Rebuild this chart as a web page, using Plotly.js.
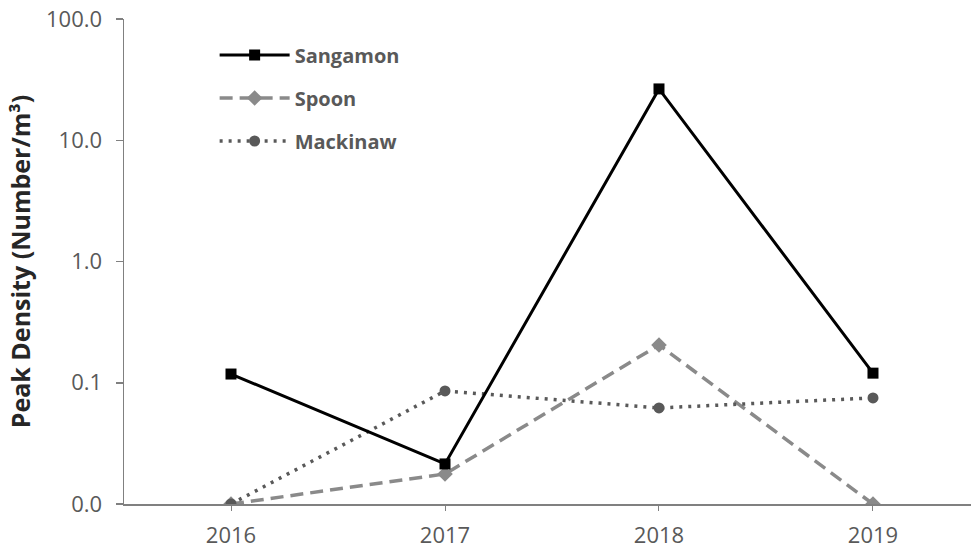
<!DOCTYPE html>
<html>
<head>
<meta charset="utf-8">
<script src="https://cdn.plot.ly/plotly-3.0.1.min.js"></script>
<style>html,body{margin:0;padding:0;background:#fff;}#chart{width:971px;height:548px;}</style>
</head>
<body>
<div id="chart"></div>
<script>
const years = ["2016", "2017", "2018", "2019"];
const sangamon = [0.118, 0.0214, 26.5, 0.120];
const spoon = [0.01, 0.0177, 0.205, 0.01];
const mackinaw = [0.01, 0.0856, 0.062, 0.075];
const yTickVals = [0.01, 0.1, 1, 10, 100];
const yTickText = ["0.0", "0.1", "1.0", "10.0", "100.0"];

const traces = [
  {x: years, y: sangamon, name: "Sangamon", mode: "lines+markers", legendgroup: "a", yaxis: "y2",
   line: {color: "#000000", width: 3}, marker: {symbol: "square", size: 11, color: "#000000"}},
  {x: years, y: spoon, name: "Spoon", mode: "lines+markers", legendgroup: "b",
   line: {color: "#8a8a8a", width: 3.5, dash: "13px,7px"}, marker: {symbol: "diamond", size: 12, color: "#8a8a8a"}},
  {x: years, y: mackinaw, name: "Mackinaw", mode: "lines+markers", legendgroup: "c",
   line: {color: "#595959", width: 3.5, dash: "3px,6px"}, marker: {symbol: "circle", size: 11, color: "#595959"}}
];

const layout = {
  width: 971, height: 548,
  margin: {l: 124, r: 0, t: 19, b: 44, pad: 0},
  paper_bgcolor: "#ffffff", plot_bgcolor: "#ffffff",
  font: {family: "Open Sans, Liberation Sans, sans-serif", color: "#595959", size: 18},
  showlegend: true,
  legend: {x: 0.107, xanchor: "left", y: 0.966, yanchor: "top", bgcolor: "rgba(0,0,0,0)",
           itemwidth: 70,
           font: {size: 20, color: "#595959", family: "Open Sans, sans-serif", weight: "bold"},
           tracegroupgap: 14, traceorder: "grouped"},
  xaxis: {type: "category", range: [-0.5, 3.458], showgrid: false, zeroline: false,
          showline: true, linecolor: "#808080", linewidth: 1.5,
          ticks: "outside", ticklen: 5, tickcolor: "#808080", ticklabelstandoff: 6,
          tickfont: {size: 22, color: "#595959"}},
  yaxis: {type: "log", range: [-2, 2], showgrid: false, zeroline: false,
          showline: true, linecolor: "#808080", linewidth: 1.5,
          ticks: "outside", ticklen: 16, tickcolor: "rgba(0,0,0,0)",
          tickvals: yTickVals, ticktext: yTickText,
          tickfont: {size: 22, color: "#595959"},
          title: {text: "Peak Density (Number/m³)", standoff: 8,
                  font: {size: 25, color: "#262626", family: "Open Sans, sans-serif", weight: "bold"}}},
  yaxis2: {type: "log", range: [-2, 2], overlaying: "y", side: "left", anchor: "x",
           showgrid: false, zeroline: false, showline: false,
           ticks: "outside", ticklen: 7, tickcolor: "#808080", tickwidth: 1.5,
           tickvals: yTickVals, showticklabels: false}
};

Plotly.newPlot("chart", traces, layout, {staticPlot: true, displayModeBar: false});
</script>
</body>
</html>
